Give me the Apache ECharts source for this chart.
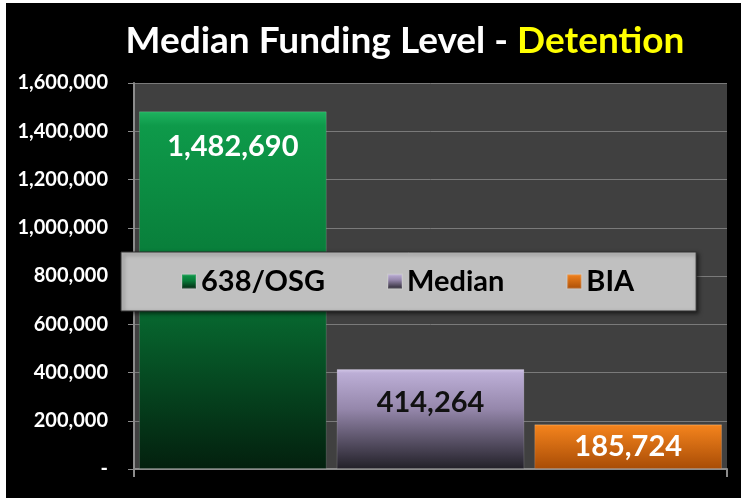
<!DOCTYPE html>
<html>
<head>
<meta charset="utf-8">
<script src="https://cdn.jsdelivr.net/npm/echarts@6/dist/echarts.min.js"></script>
<style>
html, body { margin: 0; padding: 0; background: #fff; }
#chart { position: absolute; left: 6px; top: 3px; width: 735px; height: 495px; background: #000; }
</style>
</head>
<body>
<div id="chart"></div>
<script>
var categories = ['638/OSG', 'Median', 'BIA'];
var values = [1482690, 414264, 185724];
var labelColors = ['#ffffff', '#111111', '#ffffff'];
var labelDistance = [21, 19, 8];

function grad(stops) {
    return {
        type: 'linear', x: 0, y: 0, x2: 0, y2: 1,
        colorStops: stops.map(function (s) { return { offset: s[0], color: s[1] }; })
    };
}

var fills = [
    grad([[0, '#1fb360'], [0.04, '#0e9a4a'], [0.45, '#087a38'], [1, '#03200e']]),
    grad([[0, '#d4c8e8'], [0.04, '#bcaed6'], [0.4, '#9587ab'], [1, '#222028']]),
    grad([[0, '#ffa040'], [0.05, '#f2821c'], [1, '#a84c06']])
];

var myChart = echarts.init(document.getElementById('chart'));

var series = categories.map(function (name, i) {
    return {
        name: name,
        type: 'bar',
        barGap: '-100%',
        barCategoryGap: '5%',
        itemStyle: {
            color: fills[i],
            borderColor: 'rgba(255,255,255,0.15)',
            borderWidth: 1
        },
        label: {
            show: true,
            position: 'insideTop',
            distance: labelDistance[i],
            color: labelColors[i],
            fontFamily: 'Lato',
            fontWeight: 'bold',
            fontSize: 29,
            formatter: function (p) { return p.value.toLocaleString('en-US'); }
        },
        data: categories.map(function (c, j) { return j === i ? values[j] : '-'; })
    };
});

option = {
    title: {
        left: 394,
        top: 15,
        textAlign: 'center',
        text: '{w|Median Funding Level - }{y|Detention}',
        textStyle: {
            rich: {
                w: { color: '#ffffff', fontSize: 37, fontWeight: 'bold', fontFamily: 'Lato' },
                y: { color: '#ffff00', fontSize: 37, fontWeight: 'bold', fontFamily: 'Lato' }
            }
        }
    },
    legend: {
        left: 115,
        top: 249,
        padding: [15, 62, 15, 60],
        itemGap: 62,
        itemWidth: 14,
        itemHeight: 14,
        icon: 'rect',
        backgroundColor: '#c0c0c0',
        borderColor: '#303030',
        borderWidth: 1,
        shadowColor: 'rgba(0,0,0,0.6)',
        shadowBlur: 4,
        shadowOffsetX: 2,
        shadowOffsetY: 2,
        textStyle: {
            color: '#000',
            fontFamily: 'Lato',
            fontWeight: 'bold',
            fontSize: 29
        },
        data: categories
    },
    grid: {
        left: 128,
        right: 14,
        top: 80,
        bottom: 29,
        show: true,
        backgroundColor: '#404040',
        borderWidth: 0
    },
    xAxis: [{
        type: 'category',
        data: categories,
        axisLine: { lineStyle: { color: '#8c8c8c', width: 2 } },
        axisTick: { show: false },
        axisLabel: { show: false }
    }, {
        // end ticks only, below the category axis
        type: 'value',
        position: 'bottom',
        min: 0,
        max: categories.length,
        interval: categories.length,
        axisLine: { show: false },
        axisTick: { show: true, length: 8, lineStyle: { color: '#8c8c8c', width: 2 } },
        axisLabel: { show: false },
        splitLine: { show: false }
    }],
    yAxis: {
        type: 'value',
        min: 0,
        max: 1600000,
        interval: 200000,
        axisLine: { show: true, lineStyle: { color: '#8c8c8c', width: 2 } },
        axisTick: { show: true, length: 6, lineStyle: { color: '#8c8c8c' } },
        splitLine: { lineStyle: { color: '#7a7a7a', width: 1 } },
        axisLabel: {
            color: '#ffffff',
            fontFamily: 'Lato',
            fontWeight: 'bold',
            fontSize: 20,
            margin: 26,
            formatter: function (v) { return v === 0 ? '-' : v.toLocaleString('en-US'); }
        }
    },
    series: series
};

myChart.setOption(option);
</script>
</body>
</html>
